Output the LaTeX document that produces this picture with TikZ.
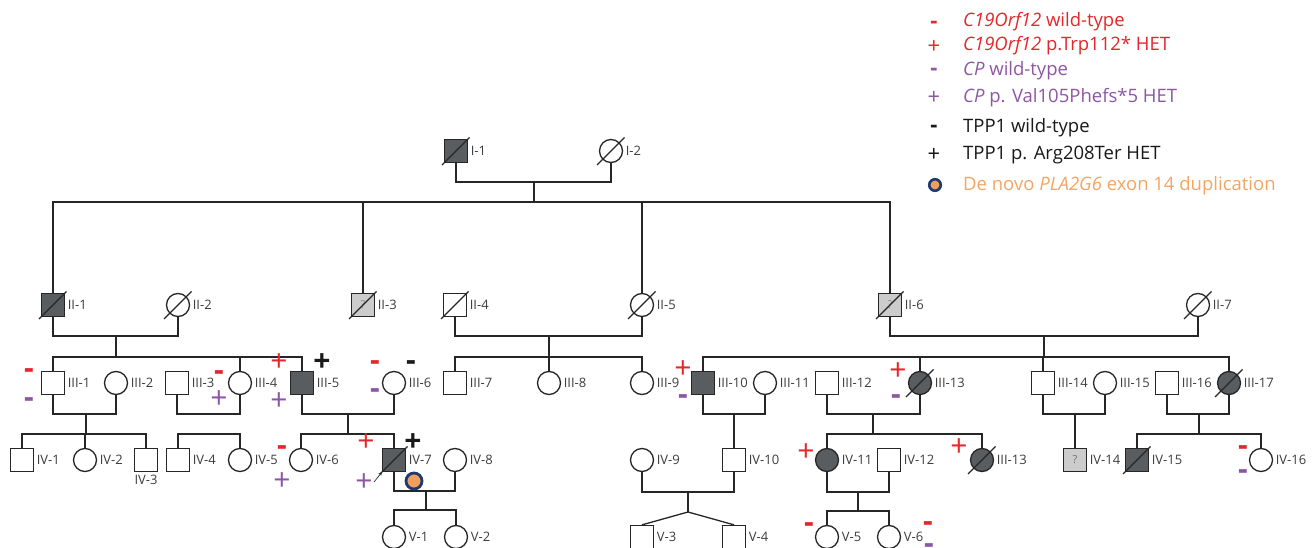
\documentclass[tikz,border=0pt]{standalone}
\usepackage{fontspec}
\setmainfont{Open Sans}
\usetikzlibrary{calc,arrows.meta}
\definecolor{affg}{RGB}{90,93,96}
\definecolor{unkg}{RGB}{204,204,204}
\definecolor{lncol}{RGB}{38,38,38}
\definecolor{labc}{RGB}{60,60,60}
\definecolor{mred}{RGB}{229,38,44}
\definecolor{mpur}{RGB}{140,86,165}
\definecolor{mblk}{RGB}{25,25,25}
\definecolor{morg}{RGB}{242,165,100}
\definecolor{dotorg}{RGB}{240,160,92}
\definecolor{navy}{RGB}{30,58,112}
\newcommand\indiv[4]{\node[#2] (#1) at (#3) {}; \node[lab] (#1-l) at ($(#1.east)+(2.5,0)$) {#4};}
\newcommand\deceased[1]{\draw[dead] ($(#1)+(-14,14)$) -- ($(#1)+(13.5,-13.5)$);}
\newcommand\mplus[3]{\node[mkp,text=#2] (#1) at (#3) {+};}
\newcommand\mminus[3]{\node[mkm,text=#2] (#1) at (#3) {-};}
\begin{document}
\begin{tikzpicture}[x=1pt,y=-1pt,
  ln/.style={draw=lncol,line width=1.3pt},
  sq/.style={rectangle,draw=lncol,line width=1.3pt,minimum size=23pt,inner sep=0pt,fill=white},
  ci/.style={circle,draw=lncol,line width=1.3pt,minimum size=23pt,inner sep=0pt,fill=white},
  aff/.style={fill=affg},
  unk/.style={fill=unkg},
  lab/.style={text=labc,font=\fontsize{13}{13}\selectfont,inner sep=0pt,anchor=west},
  dead/.style={draw=lncol,line width=1.1pt},
  mkp/.style={font=\fontsize{30}{30}\selectfont,inner sep=0pt},
  mkm/.style={font=\bfseries\fontsize{30}{30}\selectfont,inner sep=0pt,yshift=-3pt},
  lgp/.style={font=\fontsize{22}{22}\selectfont,inner sep=0pt},
  lgm/.style={font=\bfseries\fontsize{22}{22}\selectfont,inner sep=0pt,yshift=-2pt},
  lgt/.style={font=\fontsize{18.5}{18.5}\selectfont,inner sep=0pt,anchor=base west},
  qm/.style={font=\fontsize{11}{11}\selectfont,inner sep=0pt}
]
\useasboundingbox (0,0) rectangle (1314,548);
\clip (0,0) rectangle (1314,548);

% ---------------- Legend ----------------
\node[lgm,text=mred] (lg1) at (934,23) {-};
\node[lgp,text=mred] (lg2) at (934,47) {+};
\node[lgm,text=mpur] (lg3) at (934,70) {-};
\node[lgp,text=mpur] (lg4) at (934,98) {+};
\node[lgm,text=mblk] (lg5) at (934,127) {-};
\node[lgp,text=mblk] (lg6) at (934,155) {+};
\node[circle,fill=dotorg,draw=navy,line width=2.6pt,minimum size=11.5pt,inner sep=0pt] (lg7) at (935,185) {};
\node[lgt,text=mred] (lt1) at (963,27) {\textit{C19Orf12} wild-type};
\node[lgt,text=mred] (lt2) at (963,51) {\textit{C19Orf12} p.Trp112* HET};
\node[lgt,text=mpur] (lt3) at (963,76) {\textit{CP} wild-type};
\node[lgt,text=mpur] (lt4) at (963,103) {\textit{CP} p. Val105Phefs*5 HET};
\node[lgt,text=mblk] (lt5) at (963,133) {TPP1 wild-type};
\node[lgt,text=mblk] (lt6) at (963,160) {TPP1 p. Arg208Ter HET};
\node[lgt,text=morg] (lt7) at (963,191) {De novo \textit{PLA2G6} exon 14 duplication};

% ---------------- Generation I ----------------
\indiv{I1}{sq,aff}{456,151}{I-1}
\indiv{I2}{ci}{611,151}{I-2}
\deceased{I1}\deceased{I2}

% ---------------- Generation II ----------------
\indiv{II1}{sq,aff}{53,305}{II-1}
\indiv{II2}{ci}{178,305}{II-2}
\indiv{II3}{sq,unk}{363,305}{II-3}
\node[qm,text=black!45] (q3) at (II3) {?};
\indiv{II4}{sq}{455,305}{II-4}
\indiv{II5}{ci}{642,305}{II-5}
\indiv{II6}{sq,unk}{890,305}{II-6}
\node[qm,text=black!45] (q6) at (II6) {?};
\indiv{II7}{ci}{1198,305}{II-7}
\deceased{II1}\deceased{II2}\deceased{II3}\deceased{II4}\deceased{II5}\deceased{II6}\deceased{II7}

% ---------------- Generation III ----------------
\indiv{III1}{sq}{53,383}{III-1}
\indiv{III2}{ci}{116,383}{III-2}
\indiv{III3}{sq}{177,383}{III-3}
\indiv{III4}{ci}{240,383}{III-4}
\indiv{III5}{sq,aff}{302,383}{III-5}
\indiv{III6}{ci}{394,383}{III-6}
\indiv{III7}{sq}{455,383}{III-7}
\indiv{III8}{ci}{549,383}{III-8}
\indiv{III9}{ci}{642,383}{III-9}
\indiv{III10}{sq,aff}{703,383}{III-10}
\indiv{III11}{ci}{765,383}{III-11}
\indiv{III12}{sq}{827,383}{III-12}
\indiv{III13}{ci,aff}{920,383}{III-13}
\indiv{III14}{sq}{1043,383}{III-14}
\indiv{III15}{ci}{1105,383}{III-15}
\indiv{III16}{sq}{1167,383}{III-16}
\indiv{III17}{ci,aff}{1229,383}{III-17}
\deceased{III13}\deceased{III17}

% ---------------- Generation IV ----------------
\node[sq] (IV1) at (22,460) {}; \node[lab] (IV1-l) at ($(IV1.east)+(2.5,0)$) {IV-1};
\indiv{IV2}{ci}{85,460}{IV-2}
\node[sq] (IV3) at (146,460) {}; \node[lab,anchor=north] (IV3-l) at ($(IV3.south)+(0,3)$) {IV-3};
\indiv{IV4}{sq}{178,460}{IV-4}
\indiv{IV5}{ci}{240,460}{IV-5}
\indiv{IV6}{ci}{301,460}{IV-6}
\indiv{IV7}{sq,aff}{394,460}{IV-7}
\indiv{IV8}{ci}{455,460}{IV-8}
\indiv{IV9}{ci}{642,460}{IV-9}
\indiv{IV10}{sq}{734,460}{IV-10}
\indiv{IV11}{ci,aff}{827,460}{IV-11}
\indiv{IV12}{sq}{889,460}{IV-12}
\indiv{IV13}{ci,aff}{982,460}{III-13}
\indiv{IV14}{sq,unk}{1075,460}{IV-14}
\node[qm,text=black!55] (q14) at (IV14) {?};
\indiv{IV15}{sq,aff}{1137,460}{IV-15}
\indiv{IV16}{ci}{1261,460}{IV-16}
\deceased{IV7}\deceased{IV13}\deceased{IV15}

% ---------------- Generation V ----------------
\indiv{V1}{ci}{394,537}{V-1}
\indiv{V2}{ci}{456,537}{V-2}
\indiv{V3}{sq}{642,537}{V-3}
\indiv{V4}{sq}{734,537}{V-4}
\indiv{V5}{ci}{827,537}{V-5}
\indiv{V6}{ci}{889,537}{V-6}

% ---------------- Connectors ----------------
\coordinate (mI) at (534,182); \coordinate (sI) at (534,202);
\draw[ln] (I1) |- (mI) -| (I2);
\draw[ln] (mI) -- (sI);
\draw[ln] (II1) |- (sI) -| (II6);
\draw[ln] (sI -| II3) -- (II3);
\draw[ln] (sI -| II5) -- (II5);

\coordinate (m12) at (116,336); \coordinate (s12) at (116,357);
\draw[ln] (II1) |- (m12) -| (II2);
\draw[ln] (m12) -- (s12);
\draw[ln] (III1) |- (s12) -| (III5);
\draw[ln] (s12 -| III4) -- (III4);

\coordinate (m45) at (549,336); \coordinate (s45) at (549,357);
\draw[ln] (II4) |- (m45) -| (II5);
\draw[ln] (m45) -- (s45);
\draw[ln] (III7) |- (s45) -| (III9);
\draw[ln] (s45 -| III8) -- (III8);

\coordinate (m67) at (1044,336); \coordinate (s67) at (1044,357);
\draw[ln] (II6) |- (m67) -| (II7);
\draw[ln] (m67) -- (s67);
\draw[ln] (III10) |- (s67) -| (III17);
\draw[ln] (s67 -| III13) -- (III13);
\draw[ln] (s67 -| III14) -- (III14);

\coordinate (mA) at (86,414); \coordinate (sA) at (86,434);
\draw[ln] (III1) |- (mA) -| (III2);
\draw[ln] (mA) -- (sA);
\draw[ln] (IV1) |- (sA) -| (IV3);
\draw[ln] (sA -| IV2) -- (IV2);

\coordinate (mB) at (208,414); \coordinate (sB) at (208,434);
\draw[ln] (III3) |- (mB) -| (III4);
\draw[ln] (IV4) |- (sB) -| (IV5);

\coordinate (mC) at (348,414); \coordinate (sC) at (348,434);
\draw[ln] (III5) |- (mC) -| (III6);
\draw[ln] (mC) -- (sC);
\draw[ln] (IV6) |- (sC) -| (IV7);

\coordinate (mD) at (734,414);
\draw[ln] (III10) |- (mD) -| (III11);
\draw[ln] (mD) -- (IV10);

\coordinate (mE) at (873,414); \coordinate (sE) at (873,434);
\draw[ln] (III12) |- (mE) -| (III13);
\draw[ln] (mE) -- (sE);
\draw[ln] (IV11) |- (sE) -| (IV13);

\coordinate (mF) at (1075,414);
\draw[ln] (III14) |- (mF) -| (III15);
\draw[ln] (mF) -- (IV14);

\coordinate (mG) at (1199,414); \coordinate (sG) at (1199,434);
\draw[ln] (III16) |- (mG) -| (III17);
\draw[ln] (mG) -- (sG);
\draw[ln] (IV15) |- (sG) -| (IV16);

\coordinate (mH) at (426,491); \coordinate (sH) at (426,510);
\draw[ln] (IV7) |- (mH) -| (IV8);
\draw[ln] (mH) -- (sH);
\draw[ln] (V1) |- (sH) -| (V2);

\coordinate (mJ) at (688,492); \coordinate (tw) at (688,512);
\draw[ln] (IV9) |- (mJ) -| (IV10);
\draw[ln] (mJ) -- (tw);
\draw[ln] (tw) -- (V3.north);
\draw[ln] (tw) -- (V4.north);

\coordinate (mK) at (858,492); \coordinate (sK) at (858,511);
\draw[ln] (IV11) |- (mK) -| (IV12);
\draw[ln] (mK) -- (sK);
\draw[ln] (V5) |- (sK) -| (V6);

% proband arrow and de novo mark
\coordinate (pa) at (374,482);
\draw[draw=lncol,line width=0.7pt,-{Stealth[length=3.5pt,width=3.5pt]}] (pa) -- (IV7.south west);
\node[circle,fill=dotorg,draw=navy,line width=2.8pt,minimum size=16pt,inner sep=0pt] (dn) at (414,481) {};

% ---------------- Genotype marks ----------------
\mminus{a1}{mred}{29,371} \mminus{a2}{mpur}{29,400}
\mminus{b1}{mred}{219,373} \mplus{b2}{mpur}{219,400}
\mplus{c1}{mred}{279,363} \node[mkp,font=\bfseries\fontsize{30}{30}\selectfont,text=mblk] (c2) at (322,363) {+}; \mplus{c3}{mpur}{279,402}
\mminus{d1}{mred}{375,363} \mminus{d2}{mblk}{411,363} \mminus{d3}{mpur}{375,391}
\mminus{e1}{mred}{282,448} \mplus{e2}{mpur}{282,482}
\mplus{f1}{mred}{366,443} \node[mkp,font=\bfseries\fontsize{30}{30}\selectfont,text=mblk] (f2) at (413,443) {+}; \mplus{f3}{mpur}{364,483}
\mplus{g1}{mred}{683,370} \mminus{g2}{mpur}{683,397}
\mplus{h1}{mred}{806,453}
\mminus{h2}{mred}{809,525}
\mplus{i1}{mred}{898,372} \mminus{i2}{mpur}{896,397}
\mplus{j1}{mred}{959,448}
\mminus{k1}{mred}{1243,448} \mminus{k2}{mpur}{1243,472}
\mminus{l1}{mred}{928,524} \mminus{l2}{mpur}{929,546}
\end{tikzpicture}
\end{document}
